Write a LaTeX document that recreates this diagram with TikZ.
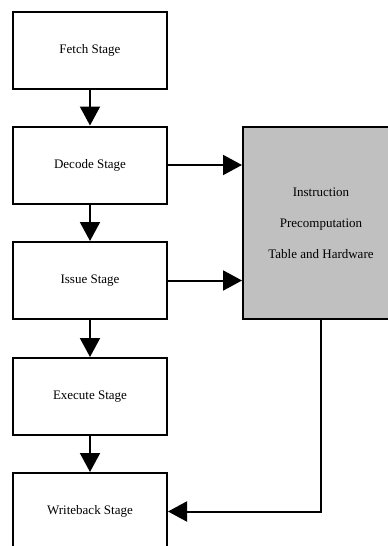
\documentclass[tikz,border=0pt]{standalone}
\usepackage{fontspec}
\setmainfont{Liberation Serif}
\usetikzlibrary{arrows.meta}
\begin{document}
\begin{tikzpicture}[x=1pt,y=-1pt,
  stagebox/.style={draw=black,line width=2pt,fill=white,minimum width=154pt,minimum height=77pt,
    inner sep=0pt,font=\fontsize{13}{15}\selectfont},
  tablebox/.style={draw=black,line width=2pt,fill=gray75,minimum width=164pt,minimum height=192pt,
    inner sep=0pt,align=center,font=\fontsize{13}{31}\selectfont},
  flow/.style={line width=2pt,-{Triangle[length=19pt,width=20pt]}}]
\definecolor{gray75}{RGB}{192,192,192}
\clip (0,0) rectangle (388,546);
\fill[white] (0,0) rectangle (388,546);
% pipeline stages
\node[stagebox] (fetch) at (90,50.5) {Fetch Stage};
\node[stagebox] (decode) at (90,165) {Decode Stage};
\node[stagebox] (issue) at (90,280.5) {Issue Stage};
\node[stagebox] (execute) at (90,396.5) {Execute Stage};
\node[stagebox] (writeback) at (90,511.5) {Writeback Stage};
% precomputation unit (runs past the right edge)
\node[tablebox] (ipt) at (325,223) {};
\node[align=center,font=\fontsize{13}{31}\selectfont] (ipttext) at (321,223)
  {Instruction\\Precomputation\\Table and Hardware};
\coordinate (iptdown) at (321,319);
% connectors
\draw[flow] (fetch) -- (decode);
\draw[flow] (decode) -- (issue);
\draw[flow] (issue) -- (execute);
\draw[flow] (execute) -- (writeback);
\draw[flow] (decode.east) -- (decode.east -| ipt.west);
\draw[flow] (issue.east) -- (issue.east -| ipt.west);
\draw[flow] (iptdown) |- (writeback.east);
\end{tikzpicture}
\end{document}
